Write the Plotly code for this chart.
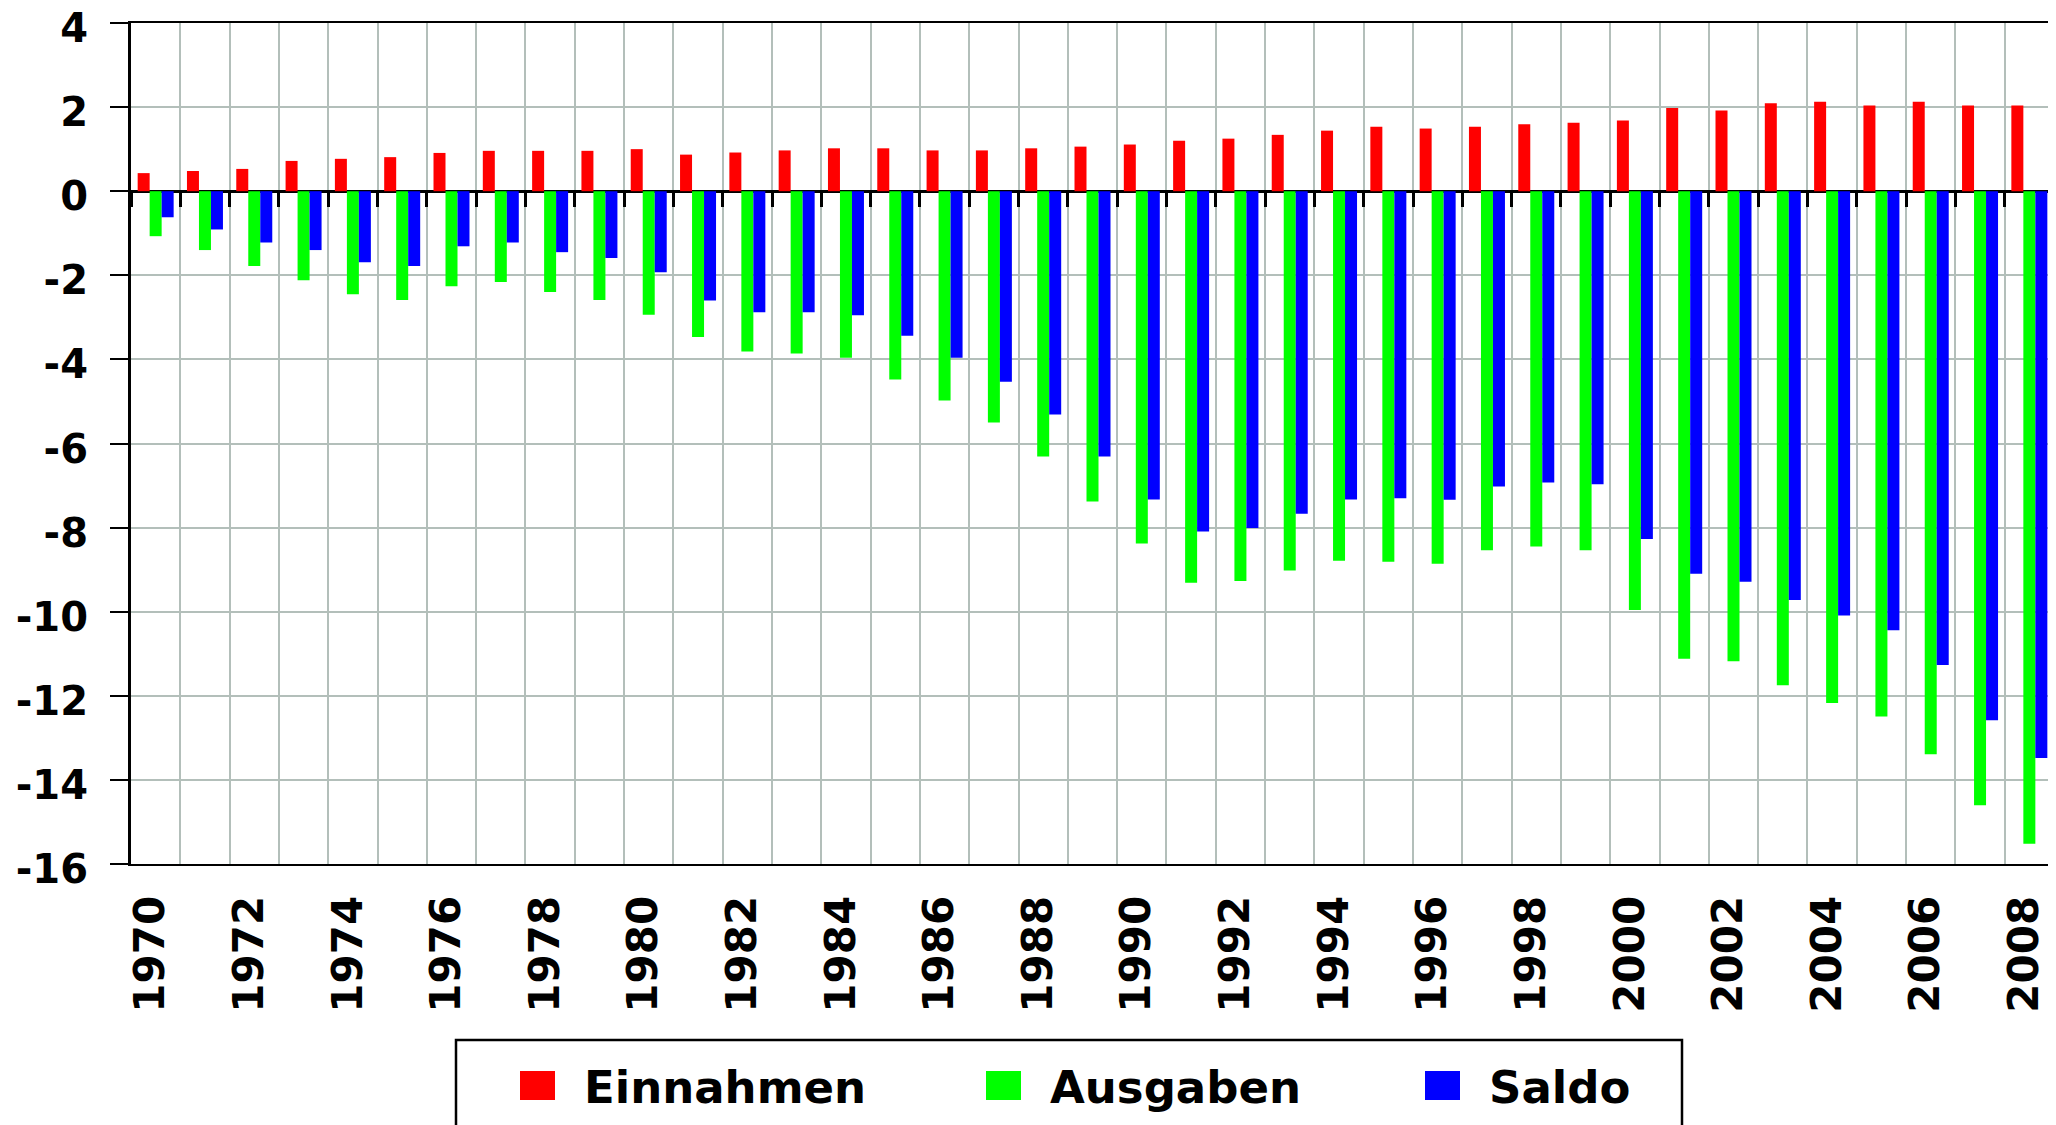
import plotly.graph_objects as go

# ---------------- data ----------------
years = list(range(1970, 2009))
series_names = ["Einnahmen", "Ausgaben", "Saldo"]
series_colors = ["#ff0000", "#00ff00", "#0000ff"]

einnahmen = [0.43, 0.48, 0.53, 0.72, 0.77, 0.81, 0.91, 0.96, 0.96, 0.96, 1.00,
             0.87, 0.92, 0.97, 1.02, 1.02, 0.97, 0.97, 1.02, 1.06, 1.11, 1.20, 1.25, 1.34, 1.44,
             1.53, 1.49, 1.53, 1.59, 1.63, 1.68, 1.98, 1.92, 2.09, 2.13, 2.04, 2.13, 2.04, 2.04]
ausgaben = [-1.07, -1.40, -1.78, -2.12, -2.45, -2.59, -2.26, -2.16, -2.40, -2.59, -2.94,
            -3.47, -3.81, -3.86, -3.96, -4.48, -4.98, -5.50, -6.31, -7.38, -8.38, -9.31, -9.27, -9.02, -8.79,
            -8.81, -8.86, -8.54, -8.45, -8.54, -9.96, -11.12, -11.18, -11.75, -12.17, -12.49, -13.39, -14.60, -15.52]
saldo = [-0.62, -0.91, -1.22, -1.40, -1.69, -1.78, -1.31, -1.22, -1.45, -1.59, -1.93,
         -2.60, -2.88, -2.88, -2.95, -3.44, -3.96, -4.53, -5.31, -6.31, -7.33, -8.09, -8.01, -7.67, -7.33,
         -7.30, -7.34, -7.02, -6.93, -6.97, -8.27, -9.10, -9.29, -9.72, -10.09, -10.44, -11.27, -12.58, -13.48]

y_tickvals = [4, 2, 0, -2, -4, -6, -8, -10, -12, -14, -16]
y_ticktext = ["4", "2", "0", "-2", "-4", "-6", "-8", "-10", "-12", "-14", "-16"]
x_tickvals = years[::2]
x_ticktext = [str(y) for y in x_tickvals]

# ---------------- layout geometry ----------------
OFF = 8                      # default body margin of the html page
W, H = 2056 - OFF, 1125 - OFF
ML, MR, MT, MB = 131 - OFF, 2, 23 - OFF, 261
PW, PH = W - ML - MR, H - MT - MB
YMIN, YMAX = -16, 4


def px(x):
    """page pixel x -> paper fraction"""
    return (x - OFF - ML) / PW


def py(y):
    """page pixel y -> paper fraction"""
    return (H - MB - (y - OFF)) / PH


FONT = "DejaVu Sans"
GRID = "#b3bfba"

fig = go.Figure()
for name, vals, col in zip(series_names, [einnahmen, ausgaben, saldo], series_colors):
    fig.add_bar(x=years, y=vals, name=name, marker=dict(color=col, line=dict(width=0)),
                showlegend=False)

# helper trace so that the overlay axis carrying the zero-line ticks is drawn
fig.add_scatter(x=years, y=[0] * len(years), xaxis="x2", yaxis="y", mode="markers",
                marker=dict(size=1, opacity=0), showlegend=False, hoverinfo="skip")

boundaries = [y - 0.5 for y in years] + [years[-1] + 0.5]

fig.update_layout(
    width=W, height=H,
    margin=dict(l=ML, r=MR, t=MT, b=MB, pad=0, autoexpand=False),
    paper_bgcolor="white", plot_bgcolor="white",
    barmode="group", bargap=0.27, bargroupgap=0,
    showlegend=False,
    font=dict(family=FONT, color="black"),
    xaxis=dict(
        range=[years[0] - 0.5, years[-1] + 0.5], automargin=False,
        tickmode="array", tickvals=x_tickvals, ticktext=x_ticktext,
        tickangle=-90, ticks="", ticklabelstandoff=13, ticklabelshift=-5,
        ticklabeloverflow="allow",
        tickfont=dict(family=FONT, size=42, color="black", weight="bold"),
        showgrid=False, zeroline=False,
        minor=dict(tickmode="array", tickvals=boundaries, showgrid=True,
                   gridcolor=GRID, gridwidth=2, ticks=""),
        showline=True, linecolor="black", linewidth=2, mirror=True,
    ),
    xaxis2=dict(
        overlaying="x", anchor="free", position=(0 - YMIN) / (YMAX - YMIN),
        range=[years[0] - 0.5, years[-1] + 0.5], automargin=False,
        tickmode="array", tickvals=boundaries, ticks="outside", ticklen=15,
        tickwidth=3, tickcolor="black", showticklabels=False,
        showgrid=False, zeroline=False, showline=False, side="bottom",
    ),
    yaxis=dict(
        range=[YMIN, YMAX], automargin=False,
        tickmode="array", tickvals=y_tickvals, ticktext=y_ticktext,
        ticks="outside", ticklen=18, tickwidth=2, tickcolor="black",
        ticklabelstandoff=14, ticklabelshift=5, ticklabeloverflow="allow",
        tickfont=dict(family=FONT, size=40, color="black", weight="bold"),
        showgrid=True, gridcolor=GRID, gridwidth=2,
        zeroline=True, zerolinecolor="black", zerolinewidth=3,
        showline=True, linecolor="black", linewidth=3, mirror=True,
    ),
)

# ---------------- legend (drawn as a boxed key below the plot) ----------------
shapes = [dict(type="rect", xref="paper", yref="paper",
               x0=px(456), x1=px(1682), y0=py(1145), y1=py(1040),
               line=dict(color="black", width=2.5), fillcolor="rgba(0,0,0,0)")]
annotations = []
swatch_left = [520, 986, 1425]
for name, col, sx in zip(series_names, series_colors, swatch_left):
    shapes.append(dict(type="rect", xref="paper", yref="paper",
                       x0=px(sx), x1=px(sx + 35), y0=py(1100), y1=py(1071),
                       line=dict(width=0), fillcolor=col))
    annotations.append(dict(xref="paper", yref="paper", x=px(sx + 62), y=py(1087),
                            xanchor="left", yanchor="middle", showarrow=False,
                            text=name,
                            font=dict(family=FONT, size=45, color="black", weight="bold")))
fig.update_layout(shapes=shapes, annotations=annotations)

fig.write_html("out.html")
